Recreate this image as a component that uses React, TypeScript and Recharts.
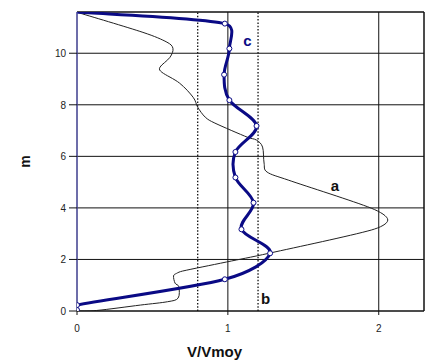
import React from "react";
import {
  LineChart, Line, XAxis, YAxis, CartesianGrid, ReferenceLine, ReferenceDot,
} from "recharts";

// profil a (mesuré), de bas en haut : hauteur m, vitesse V/Vmoy
const aHeight = [0, 0.02, 0.23, 0.36, 0.5, 0.94, 1.08, 1.36, 1.46, 1.55, 1.9, 2.25, 3.14, 3.53, 3.99, 5.08, 5.39, 5.74, 6.36, 6.63, 6.74, 7.29, 7.52, 7.91, 8.29, 8.84, 9.26, 9.46, 9.84, 10.19, 10.43, 10.81, 11.59];
const aSpeed = [0, 0.13, 0.42, 0.6, 0.67, 0.675, 0.65, 0.64, 0.66, 0.7, 0.99, 1.28, 1.95, 2.06, 1.95, 1.4, 1.26, 1.24, 1.23, 1.19, 1.13, 0.914, 0.85, 0.8, 0.77, 0.68, 0.563, 0.55, 0.616, 0.636, 0.596, 0.437, 0];

// profil c (calculé), de haut en bas
const cHeight = [11.6, 11.15, 10.18, 9.17, 8.18, 7.18, 6.17, 5.18, 4.2, 3.17, 2.24, 1.23, 0.23, 0.04];
const cSpeed = [0, 0.98, 1.01, 0.975, 1.01, 1.19, 1.05, 1.05, 1.17, 1.09, 1.28, 0.98, 0, 0];

// limites b
const bandLimits = [0.8, 1.2];

const xTicks = [0, 1, 2];
const yTicks = [0, 2, 4, 6, 8, 10];
const xMax = 2.3;
const yMax = 11.6;

const aData = aHeight.map((y, i) => ({ y, x: aSpeed[i] }));
const cData = cHeight.map((y, i) => ({ y, x: cSpeed[i] }));

const FONT = "'Liberation Sans', Arial, sans-serif";
const NAVY = "#0a0a85";

// control point next to p: tangent (b - a) / 6, kept under half the segment
function ctrl(p: number[], a: number[], b: number[], len: number) {
  let dx = (b[0] - a[0]) / 6;
  let dy = (b[1] - a[1]) / 6;
  const d = Math.hypot(dx, dy);
  if (d > len / 2 && d > 0) {
    dx *= len / 2 / d;
    dy *= len / 2 / d;
  }
  return [p[0] + dx, p[1] + dy];
}

// Excel-like smoothed line
const smooth = (ctx: any) => {
  let pts: number[][] = [];
  return {
    areaStart() {},
    areaEnd() {},
    lineStart() { pts = []; },
    point(x: number, y: number) { pts.push([x, y]); },
    lineEnd() {
      if (!pts.length) return;
      ctx.moveTo(pts[0][0], pts[0][1]);
      for (let i = 0; i < pts.length - 1; i++) {
        const p0 = pts[Math.max(i - 1, 0)];
        const p1 = pts[i];
        const p2 = pts[i + 1];
        const p3 = pts[Math.min(i + 2, pts.length - 1)];
        const len = Math.hypot(p2[0] - p1[0], p2[1] - p1[1]);
        const c1 = ctrl(p1, p0, p2, len);
        const c2 = ctrl(p2, p3, p1, len);
        ctx.bezierCurveTo(c1[0], c1[1], c2[0], c2[1], p2[0], p2[1]);
      }
    },
  };
};

const YTick = (p: any) => (
  <text x={p.x} y={p.y + 4} textAnchor="end" fontSize={10} fill="#222" fontFamily={FONT}>
    {p.payload.value}
  </text>
);

const XTick = (p: any) => (
  <text x={p.x} y={p.y + 7} textAnchor="middle" fontSize={10} fill="#222" fontFamily={FONT}>
    {p.payload.value}
  </text>
);

const XTitle = (p: any) => {
  const vb = p.viewBox;
  return (
    <text x={vb.x + vb.width / 2 - 36} y={vb.y + vb.height - 4} textAnchor="middle"
      fontSize={15} fontWeight="bold" fill="#111" fontFamily={FONT}>
      V/Vmoy
    </text>
  );
};

const YTitle = (p: any) => {
  const vb = p.viewBox;
  const cx = vb.x + 8;
  const cy = vb.y + vb.height / 2;
  return (
    <text x={cx} y={cy} textAnchor="middle" dominantBaseline="central"
      transform={`rotate(-90 ${cx} ${cy})`}
      fontSize={14} fontWeight="bold" fill="#111" fontFamily={FONT}>
      m
    </text>
  );
};

const Marker = (p: any) =>
  p.index === 0 ? <g key={p.index} /> : (
    <circle key={p.index} cx={p.cx} cy={p.cy} r={2.5} fill="#fff" stroke={NAVY} strokeWidth={1} />
  );

const labelStyle = { fontSize: 15, fontWeight: "bold", fontFamily: FONT } as const;

export default function App() {
  return (
    <div style={{ position: "absolute", left: 0, top: 0, width: 431, height: 361, background: "#fff" }}>
      <LineChart width={431} height={361} layout="vertical"
        margin={{ top: 12, right: 7, left: 17, bottom: 0 }}>
        <CartesianGrid stroke="#111" />
        <XAxis type="number" dataKey="x" domain={[0, xMax]} ticks={xTicks} allowDataOverflow
          height={50} tickSize={4} tickMargin={10} tick={<XTick />}
          axisLine={{ stroke: "#111" }} tickLine={{ stroke: "#111" }} label={{ content: XTitle }} />
        <YAxis type="number" dataKey="y" domain={[0, yMax]} ticks={yTicks} allowDataOverflow reversed
          width={60} tickSize={8} tickMargin={3} tick={<YTick />}
          axisLine={{ stroke: "#5555cc" }} tickLine={{ stroke: "#111" }} label={{ content: YTitle }} />
        <ReferenceLine y={yMax} stroke="#111" />
        <ReferenceLine x={xMax} stroke="#111" />
        {bandLimits.map((v) => (
          <ReferenceLine key={v} x={v} stroke="#111" strokeWidth={1.3} strokeDasharray="1.5 1.8" />
        ))}
        <Line data={aData} dataKey="x" type={smooth as any} stroke="#222" strokeWidth={1}
          dot={false} activeDot={false} isAnimationActive={false} />
        <Line data={cData} dataKey="x" type={smooth as any} stroke={NAVY} strokeWidth={3}
          dot={Marker} activeDot={false} isAnimationActive={false} />
        <ReferenceDot x={1.71} y={4.85} r={0} fill="none" stroke="none"
          label={{ value: "a", position: "center", fill: "#111", ...labelStyle }} />
        <ReferenceDot x={1.25} y={0.47} r={0} fill="none" stroke="none"
          label={{ value: "b", position: "center", fill: "#111", ...labelStyle }} />
        <ReferenceDot x={1.13} y={10.5} r={0} fill="none" stroke="none"
          label={{ value: "c", position: "center", fill: NAVY, ...labelStyle }} />
      </LineChart>
    </div>
  );
}
